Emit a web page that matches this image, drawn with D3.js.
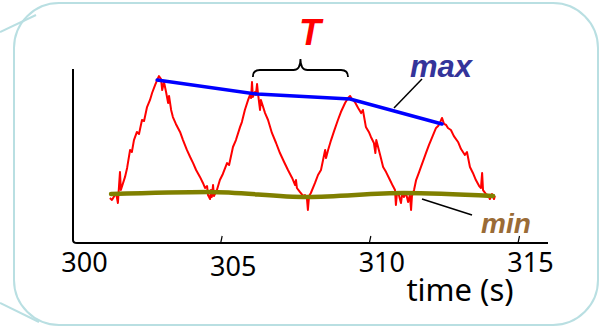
<!DOCTYPE html>
<html>
<head>
<meta charset="utf-8">
<script src="https://cdn.jsdelivr.net/npm/d3@7"></script>
<style>
  body { margin: 0; background: #fff; }
  svg { display: block; }
  text { font-family: "Noto Sans", "DejaVu Sans", sans-serif; }
</style>
</head>
<body>
<svg width="606" height="332"></svg>
<script>
// time axis ticks
const xTicks = [300, 305, 310, 315];

// noisy red signal, [time (s), value]
const signal = [
  [301.24, 2.60], [301.31, 2.49], [301.45, 2.89], [301.51, 2.31], [301.55, 3.35],
  [301.58, 4.10], [301.61, 3.06], [301.75, 3.82], [301.82, 4.34], [301.92, 5.38],
  [301.98, 5.26], [302.05, 5.95], [302.15, 6.42], [302.22, 6.30], [302.32, 7.11],
  [302.39, 7.05], [302.49, 7.86], [302.59, 8.27], [302.66, 8.67], [302.76, 9.13],
  [302.83, 9.42], [302.89, 9.65], [302.96, 9.48], [303.00, 8.84], [303.06, 9.31],
  [303.13, 8.73], [303.20, 8.09], [303.23, 8.50], [303.30, 7.69], [303.36, 7.28],
  [303.46, 6.88], [303.60, 6.42], [303.70, 5.95], [303.83, 5.38], [303.94, 4.97],
  [304.04, 4.62], [304.14, 4.22], [304.27, 3.82], [304.37, 3.47], [304.44, 3.18],
  [304.51, 3.29], [304.54, 2.77], [304.61, 2.54], [304.64, 3.06], [304.67, 2.66],
  [304.71, 3.35], [304.74, 2.72], [304.84, 3.06], [304.94, 3.64], [305.04, 3.99],
  [305.18, 4.62], [305.25, 4.51], [305.38, 5.55], [305.48, 5.95], [305.62, 6.71],
  [305.68, 6.99], [305.78, 7.69], [305.89, 8.27], [305.95, 8.55], [305.99, 8.38],
  [306.02, 9.31], [306.05, 8.44], [306.12, 8.73], [306.15, 8.55], [306.19, 9.19],
  [306.22, 8.67], [306.29, 7.69], [306.32, 8.27], [306.46, 7.51], [306.56, 7.11],
  [306.69, 6.36], [306.83, 5.78], [306.96, 5.20], [307.10, 4.68], [307.23, 4.22],
  [307.37, 3.76], [307.47, 3.35], [307.50, 3.64], [307.53, 3.18], [307.63, 2.95],
  [307.74, 2.72], [307.80, 2.77], [307.87, 2.54], [307.90, 1.91], [307.94, 2.72],
  [308.00, 2.89], [308.14, 3.47], [308.24, 3.93], [308.34, 4.22], [308.41, 4.80],
  [308.48, 5.38], [308.51, 4.91], [308.58, 5.38], [308.68, 5.95], [308.78, 6.47],
  [308.91, 7.11], [309.01, 7.57], [309.15, 8.09], [309.25, 8.38], [309.32, 8.50],
  [309.38, 8.32], [309.48, 8.15], [309.59, 7.80], [309.69, 7.51], [309.75, 7.69],
  [309.85, 6.71], [309.95, 6.42], [310.02, 6.13], [310.12, 5.78], [310.17, 5.20],
  [310.20, 5.95], [310.33, 5.09], [310.43, 4.39], [310.53, 4.10], [310.66, 3.64],
  [310.76, 3.29], [310.83, 3.06], [310.86, 2.20], [310.90, 2.95], [310.96, 2.77],
  [311.03, 2.31], [311.07, 2.83], [311.13, 2.66], [311.20, 2.89], [311.27, 2.37],
  [311.33, 2.77], [311.37, 1.91], [311.40, 2.72], [311.47, 3.06], [311.54, 3.64],
  [311.64, 4.10], [311.70, 4.39], [311.81, 4.91], [311.87, 5.20], [311.97, 5.66],
  [312.04, 5.95], [312.14, 6.36], [312.21, 6.65], [312.28, 6.76], [312.34, 6.94],
  [312.41, 7.23], [312.48, 6.88], [312.55, 6.82], [312.61, 6.65], [312.71, 6.53],
  [312.81, 6.18], [312.95, 5.84], [313.05, 5.43], [313.18, 5.09], [313.25, 5.26],
  [313.35, 4.39], [313.45, 4.05], [313.55, 3.64], [313.66, 3.29], [313.72, 3.18],
  [313.76, 4.05], [313.79, 3.06], [313.89, 2.83], [313.96, 2.77], [314.02, 2.54],
  [314.09, 2.83], [314.16, 2.54], [314.19, 2.72]
];

// envelope through the peaks
const maxEnvelope = [[302.83, 9.42], [306.19, 8.61], [309.32, 8.32], [312.41, 6.88]];
// envelope through the troughs
const minEnvelope = [[301.28, 2.83], [304.57, 2.95], [307.87, 2.66], [311.13, 2.89], [314.13, 2.72]];

// the period brace spans peak 2 to peak 3
const periodSpan = [306.05, 309.25];

const svg = d3.select('svg');

// speech bubble frame
svg.append('rect')
    .attr('x', 14).attr('y', 3)
    .attr('width', 584).attr('height', 322)
    .attr('rx', 45).attr('ry', 45)
    .attr('fill', '#fff')
    .attr('stroke', '#b9dfe2')
    .attr('stroke-width', 2);
svg.append('line').attr('x1', 0).attr('y1', 32).attr('x2', 36).attr('y2', 15)
    .attr('stroke', '#b9dfe2').attr('stroke-width', 2);
svg.append('line').attr('x1', 0).attr('y1', 303).attr('x2', 39).attr('y2', 322)
    .attr('stroke', '#b9dfe2').attr('stroke-width', 2);

const x = d3.scaleLinear().domain([300, 315]).range([73, 519]);
const y = d3.scaleLinear().domain([0, 10]).range([243, 70]);

// axes
const xAxis = d3.axisBottom(x)
    .tickValues(xTicks)
    .tickSizeInner(-7)
    .tickSizeOuter(0)
    .tickFormat(d3.format('d'));

const gx = svg.append('g')
    .attr('transform', `translate(0,${y(0)})`)
    .call(xAxis);
gx.select('.domain').remove();
gx.selectAll('.tick line')
    .attr('stroke', '#000')
    .attr('stroke-width', 1.2)
    .attr('x1', -1.5)   // hand-drawn ticks lean a little
    .attr('x2', 0)
    .filter(d => d === 300).remove();
gx.selectAll('.tick text')
    .attr('dx', 11)
    .attr('y', d => d === 305 ? 33 : 29)
    .attr('dy', 0)
    .attr('fill', '#000')
    .style('font-size', '27px');

svg.append('path')
    .attr('d', `M${x(300)},${y(10) - 1} L${x(300)},${y(0) - 3} Q${x(300)},${y(0)} ${x(300) + 4},${y(0)} L548,${y(0)}`)
    .attr('fill', 'none')
    .attr('stroke', '#000')
    .attr('stroke-width', 2);

svg.append('text')
    .attr('x', 460).attr('y', 301)
    .attr('text-anchor', 'middle')
    .style('font-size', '31px')
    .attr('fill', '#000')
    .text('time (s)');

// the signal
const line = d3.line().x(d => x(d[0])).y(d => y(d[1]));

svg.append('path')
    .datum(signal)
    .attr('d', line)
    .attr('fill', 'none')
    .attr('stroke', '#ff0000')
    .attr('stroke-width', 2)
    .attr('stroke-linejoin', 'round');

svg.append('path')
    .datum(minEnvelope)
    .attr('d', line.curve(d3.curveMonotoneX))
    .attr('fill', 'none')
    .attr('stroke', '#808000')
    .attr('stroke-width', 4.5)
    .attr('stroke-linecap', 'round');

svg.append('path')
    .datum(maxEnvelope)
    .attr('d', line.curve(d3.curveLinear))
    .attr('fill', 'none')
    .attr('stroke', '#0000ff')
    .attr('stroke-width', 3.5)
    .attr('stroke-linecap', 'round');

// labels and leaders
svg.append('line').attr('x1', 422).attr('y1', 79).attr('x2', 394).attr('y2', 108)
    .attr('stroke', '#000').attr('stroke-width', 1.5);
svg.append('text')
    .attr('x', 441).attr('y', 77)
    .attr('text-anchor', 'middle')
    .style('font-family', '"Liberation Sans", sans-serif')
    .style('font-size', '31px').style('font-weight', 'bold').style('font-style', 'italic')
    .attr('fill', '#34349a')
    .text('max');

svg.append('line').attr('x1', 422).attr('y1', 199).attr('x2', 472).attr('y2', 215)
    .attr('stroke', '#000').attr('stroke-width', 1.5);
svg.append('text')
    .attr('x', 506).attr('y', 233)
    .attr('text-anchor', 'middle')
    .style('font-family', '"Liberation Sans", sans-serif')
    .style('font-size', '28px').style('font-weight', 'bold').style('font-style', 'italic')
    .attr('fill', '#9a6b36')
    .text('min');

// period brace
const bx0 = x(periodSpan[0]), bx1 = x(periodSpan[1]), bm = (bx0 + bx1) / 2;
svg.append('path')
    .attr('d', `M${bx0},77 Q${bx0},70 ${bx0 + 7},70 L${bm - 7},70 Q${bm},70 ${bm},59 Q${bm},70 ${bm + 7},70 L${bx1 - 7},70 Q${bx1},70 ${bx1},77`)
    .attr('fill', 'none')
    .attr('stroke', '#000')
    .attr('stroke-width', 1.8);
svg.append('text')
    .attr('x', 310).attr('y', 45)
    .attr('text-anchor', 'middle')
    .style('font-family', '"Liberation Sans", sans-serif')
    .style('font-size', '36px').style('font-weight', 'bold').style('font-style', 'italic')
    .attr('fill', '#ff0000')
    .text('T');
</script>
</body>
</html>
